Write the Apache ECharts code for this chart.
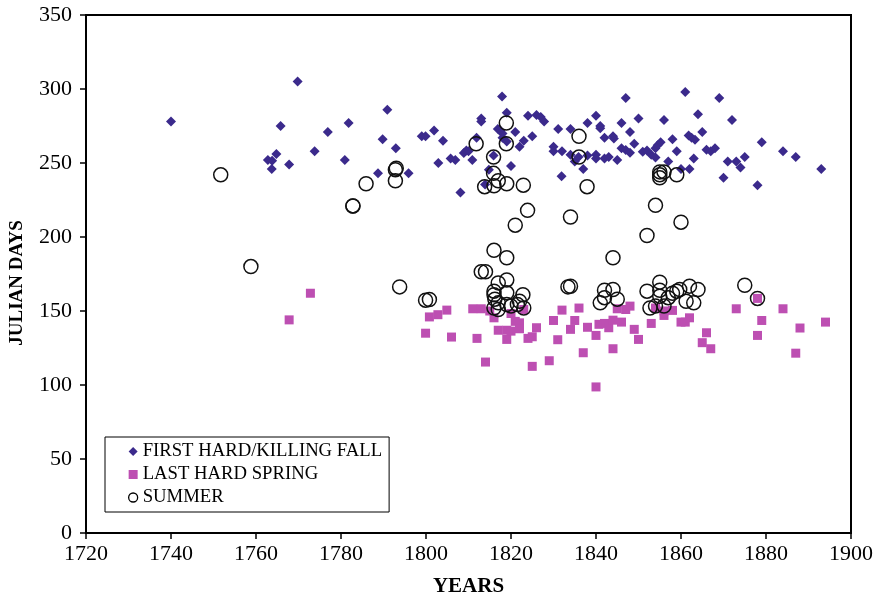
<!DOCTYPE html>
<html>
<head>
<meta charset="utf-8">
<script src="https://cdn.jsdelivr.net/npm/echarts@6/dist/echarts.min.js"></script>
<style>html,body{margin:0;padding:0;background:#fff;}#c{width:877px;height:596px;}</style>
</head>
<body>
<div id="c"></div>
<script>
var xTicks = {min: 1720, max: 1900, step: 20};
var yTicks = {min: 0, max: 350, step: 50};
var seriesNames = ['FIRST HARD/KILLING FALL', 'LAST HARD SPRING', 'SUMMER'];

var fallData = [[1740,278],[1762.8,252],[1763.8,251.5],[1763.7,246],[1764.8,256],[1765.8,275],[1767.8,249],[1769.8,305],[1773.8,258],[1776.9,271],[1780.9,252],[1781.8,277],[1788.7,243],[1789.8,266],[1790.9,286],[1792.9,260],[1795.9,243],[1799,268],[1799.9,268],[1801.9,272],[1802.9,250],[1804,265],[1805.8,253],[1806.9,252],[1808.1,230],[1808.9,256.7],[1809.5,258.5],[1810,258],[1810.9,252],[1811.9,267],[1813,280],[1813,278],[1813.9,235.5],[1814.8,245.5],[1815.9,255],[1816.9,273],[1817.5,272],[1817.9,295],[1818,270],[1818,267],[1819,284],[1819,264.5],[1820,248],[1821,271],[1822,261],[1823,265],[1824,282],[1825,268],[1826,282.5],[1827,281],[1827.8,278],[1830,261],[1830,258],[1831.1,273],[1831.9,241],[1832,258],[1834,273],[1834,255.6],[1835,251],[1835.9,254],[1837,246],[1838,277],[1838,255],[1840,282],[1840,255.6],[1840,253],[1841,275],[1841,273.5],[1842,267],[1842,253],[1843,254],[1844,268],[1844.2,266.6],[1845,252],[1846,277],[1846,260],[1847,294],[1847,258.7],[1848,271],[1848,257],[1849,263],[1850,280],[1851,257.6],[1852,258.5],[1853,255.6],[1854,253.7],[1854,260],[1854.5,262],[1855.2,264],[1856,279],[1857,251],[1858,266],[1859,258],[1860,246],[1861,298],[1861.8,268.6],[1862,246],[1862.5,267],[1863,253],[1863.3,265.7],[1864,283],[1865,271],[1866,259],[1867,258],[1868,260],[1869,294],[1870,240],[1871,251],[1872,279],[1873,251],[1874,247],[1875,254],[1878,235],[1879,264],[1884,258],[1887,254],[1893,246]];

var springData = [[1767.8,144],[1772.8,162],[1799.9,135],[1800.8,146],[1802.8,147.5],[1804.9,150.6],[1806,132.4],[1811,151.5],[1812,131.5],[1813,151.5],[1814,115.5],[1815,150],[1816,145.4],[1817,137],[1819,137],[1819,130.8],[1820,136.4],[1820,148.3],[1821,143],[1822,142],[1822,138],[1823,151],[1824,131.5],[1825,132.6],[1825,112.6],[1826,138.7],[1829,116.4],[1830,143.6],[1831,130.6],[1832,150.6],[1834,137.6],[1835,143.6],[1836,152],[1837,121.8],[1838,139],[1840,133.5],[1840,98.7],[1840.7,141],[1842,141.6],[1843,138.7],[1844,143.8],[1844,124.5],[1845,151.5],[1846,142.5],[1847,151],[1848,153.3],[1849,137.6],[1850,130.8],[1853,141.6],[1854,152],[1856,150],[1856,147],[1858,150.4],[1860,142.5],[1861,142.5],[1862,145.4],[1865,128.6],[1866,135.3],[1867,124.5],[1873,151.5],[1878,158.5],[1878,133.5],[1879,143.6],[1884,151.5],[1887,121.5],[1888,138.5],[1894,142.5]];

var summerData = [[1751.7,242],[1758.8,180],[1782.8,221],[1782.8,221],[1785.9,236],[1792.8,245.5],[1793,246.5],[1792.8,238],[1793.8,166.3],[1799.9,157.3],[1800.8,157.8],[1811.8,263],[1813,176.5],[1814,176.5],[1813.8,234],[1815.9,254],[1815.9,243],[1816,234.6],[1816,191],[1816,163.4],[1816,161],[1816.2,158],[1816,152],[1817,238],[1817,169],[1817,155.5],[1817,151],[1818.9,277],[1818.9,263],[1819,236],[1819,186],[1819,171],[1819,162.3],[1819,154.4],[1820,153.3],[1821,208],[1821.5,154.4],[1822,156.6],[1822.8,161],[1823,152],[1822.9,235],[1823.9,218],[1833.4,166.3],[1834,166.7],[1834,213.5],[1836,268],[1836,254],[1837.9,234],[1841,155.5],[1842,164],[1842,159],[1844,164.5],[1844,186],[1845,158],[1852,201],[1852,163.4],[1852.7,152],[1854,221.4],[1854,153.3],[1855,242],[1855,240],[1855,244],[1856,244],[1855,169.5],[1855,164],[1855,160],[1856,153.3],[1857,159],[1858,162],[1859,242],[1859,163.4],[1859.7,164.5],[1860,210],[1861.2,156.6],[1862,166.8],[1863,155.5],[1864,164.5],[1875,167.4],[1878,158.5]];

var serif = 'Liberation Serif';
var chart = echarts.init(document.getElementById('c'), null, {renderer: 'canvas'});
chart.setOption({
  animation: false,
  backgroundColor: '#fff',
  grid: {left: 86, right: 26, top: 15, bottom: 63, containLabel: false, outerBoundsMode: 'none',
         show: true, borderColor: '#000', borderWidth: 2, backgroundColor: 'transparent'},
  legend: {
    orient: 'vertical', left: 105, top: 437,
    data: [
      {name: seriesNames[0], icon: 'diamond', itemStyle: {color: '#3b2a8c'}},
      {name: seriesNames[1], icon: 'rect', itemStyle: {color: '#bd4fb2'}},
      {name: seriesNames[2], icon: 'circle', itemStyle: {color: '#fff', borderColor: '#000', borderWidth: 1.3}}
    ],
    itemWidth: 9, itemHeight: 9, itemGap: 4,
    padding: [5, 7, 5, 23],
    borderColor: '#000', borderWidth: 1, backgroundColor: '#fff',
    textStyle: {fontFamily: serif, fontSize: 18.7, color: '#000'}
  },
  xAxis: {
    type: 'value', min: xTicks.min, max: xTicks.max, interval: xTicks.step,
    name: 'YEARS', nameLocation: 'middle', nameGap: 43,
    nameTextStyle: {fontFamily: serif, fontSize: 21, fontWeight: 'bold', color: '#000'},
    axisLine: {show: true, lineStyle: {color: '#000', width: 2}},
    axisTick: {show: true, inside: false, length: 6, lineStyle: {color: '#000', width: 1.5}},
    axisLabel: {fontFamily: serif, fontSize: 22, color: '#000', margin: 10, formatter: function (v) { return String(v); }},
    splitLine: {show: false}
  },
  yAxis: {
    type: 'value', min: yTicks.min, max: yTicks.max, interval: yTicks.step,
    name: 'JULIAN DAYS', nameLocation: 'middle', nameGap: 59, nameRotate: 90,
    nameTextStyle: {fontFamily: serif, fontSize: 19, fontWeight: 'bold', color: '#000', padding: [0, 18, 0, 0]},
    axisLine: {show: true, lineStyle: {color: '#000', width: 2}},
    axisTick: {show: true, inside: false, length: 6, lineStyle: {color: '#000', width: 1.5}},
    axisLabel: {fontFamily: serif, fontSize: 22, color: '#000', margin: 14, formatter: function (v) { return String(v); }},
    splitLine: {show: false}
  },
  series: [
    {name: seriesNames[0], type: 'scatter', data: fallData, symbol: 'diamond', symbolSize: 10,
     itemStyle: {color: '#3b2a8c', opacity: 1}},
    {name: seriesNames[1], type: 'scatter', data: springData, symbol: 'rect', symbolSize: 9,
     itemStyle: {color: '#bd4fb2', opacity: 1}},
    {name: seriesNames[2], type: 'scatter', data: summerData, symbol: 'circle', symbolSize: 14,
     itemStyle: {color: 'rgba(0,0,0,0)', borderColor: '#111', borderWidth: 1.5, opacity: 1}}
  ]
});
</script>
</body>
</html>
